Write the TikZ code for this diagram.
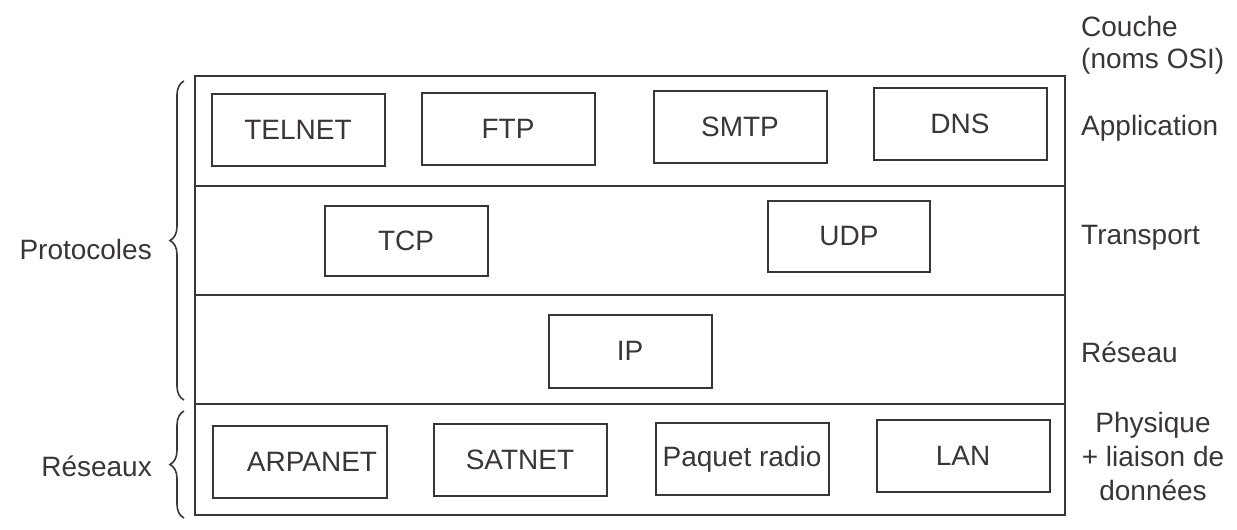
\documentclass[tikz,border=0pt]{standalone}
\usepackage{fontspec}
\setmainfont{Liberation Sans}
\usetikzlibrary{decorations.pathreplacing}
\definecolor{ink}{HTML}{3A3536}
\begin{document}
\begin{tikzpicture}[x=1pt,y=-1pt,
  every node/.style={text=ink, font=\fontsize{28}{34}\selectfont, inner sep=0pt},
  proto/.style={draw=ink, line width=2pt, minimum width=173pt, minimum height=72pt},
  frame/.style={draw=ink, line width=2pt},
  bracket/.style={draw=ink, line width=1.6pt, decorate,
                  decoration={brace, amplitude=14pt, aspect=0.5}}]
\useasboundingbox (0,0) rectangle (1237,530);

% stack frame and layer separators
\draw[frame] (195,76) rectangle (1065,515);
\draw[frame] (195,186) -- (1065,186);
\draw[frame] (195,295) -- (1065,295);
\draw[frame] (195,404) -- (1065,404);

% application layer
\node[proto] (telnet) at (298,130) {TELNET};
\node[proto] (ftp)    at (508,129) {FTP};
\node[proto] (smtp)   at (740,127) {SMTP};
\node[proto] (dns)    at (960,124) {DNS};

% transport layer
\node[proto, minimum width=163pt, minimum height=70pt] (tcp) at (406,241) {TCP};
\node[proto, minimum width=162pt, minimum height=71pt] (udp) at (849,236) {UDP};

% network layer
\node[proto, minimum width=163pt, minimum height=73pt] (ip) at (630,351) {IP};

% physical + data link layer
\node[proto, minimum width=174pt] (arpanet) at (300,462) {\hspace*{24pt}ARPANET};
\node[proto] (satnet) at (520,460) {SATNET};
\node[proto] (radio)  at (742,459) {Paquet radio};
\node[proto] (lan)    at (963,456) {LAN};

% layer names
\node[anchor=west] (couche) at (1081,26) {Couche};
\node[anchor=west] (osi) at (1081,61) {(noms OSI)};
\node[anchor=west] (lapp) at (1081,128) {Application};
\node[anchor=west] (ltrans) at (1081,238) {Transport};
\node[anchor=west] (lnet) at (1081,352) {Réseau};
\node[align=center] (lphy) at (1153,456) {Physique\\+ liaison de\\données};

% braces and group names
\coordinate (pb) at (184,400);
\coordinate (pt) at (184,81);
\coordinate (rb) at (184,518);
\coordinate (rt) at (184,411);
\draw[bracket] (pb) -- (pt);
\draw[bracket] (rb) -- (rt);
\node[anchor=east] (protocoles) at (152,249) {Protocoles};
\node[anchor=east] (reseaux) at (152,466) {Réseaux};
\end{tikzpicture}
\end{document}
